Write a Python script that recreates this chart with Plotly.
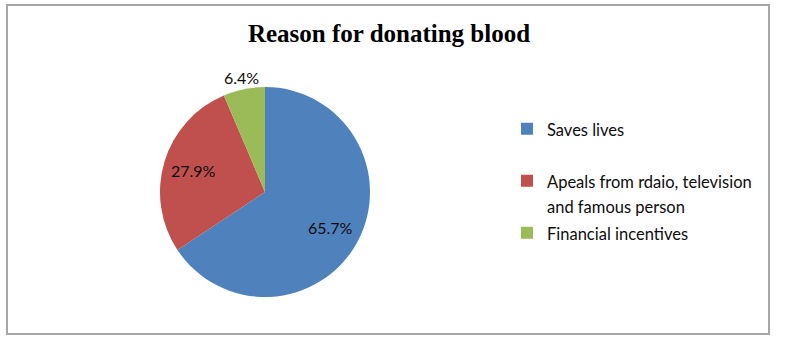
import math
import plotly.graph_objects as go

# Survey result: reasons given for donating blood (share of respondents, %)
reasons = [
    "Saves lives",
    "Apeals from rdaio, television and famous person",
    "Financial incentives",
]
shares = [65.7, 27.9, 6.4]
colors = ["#4F81BD", "#C0504D", "#9BBB59"]

W, H = 800, 346
TEXT_FONT = "Lato, sans-serif"
LABEL_SIZE = 16
LEGEND_SIZE = 16.5

# Pie placement (pixels): centre and radius
CX, CY, R = 265, 192, 105


def px_x(x):
    return x / W


def px_y(y):
    return 1 - y / H


# Legend entries: wrap the long reason, and pad the first entry with a blank
# line so the items are spread down the right-hand side
wrapped = {
    "Apeals from rdaio, television and famous person":
        "Apeals from rdaio, television<br>and famous person",
}
legend_text = []
for i, r in enumerate(reasons):
    t = wrapped.get(r, r)
    t = "<br>".join(f"<span style='font-size:{LEGEND_SIZE}px'>{ln}</span>" for ln in t.split("<br>"))
    if i == 0:
        t += "<br> "
    legend_text.append(t)

fig = go.Figure(
    go.Pie(
        labels=legend_text,
        values=shares,
        sort=False,
        direction="clockwise",
        rotation=0,
        marker=dict(colors=colors, line=dict(width=0)),
        textinfo="none",
        domain=dict(x=[px_x(CX - R), px_x(CX + R)], y=[px_y(CY + R), px_y(CY - R)]),
        hovertemplate="%{value:.1f}%<extra></extra>",
    )
)

# Percentage labels on the slice bisectors: inside for the big slices,
# just outside the rim for the small one
total = sum(shares)
start = 0.0
for v in shares:
    span = 360.0 * v / total
    mid = math.radians(start + span / 2)
    start += span
    f = 0.71 if v / total > 0.1 else 1.11
    fig.add_annotation(
        x=px_x(CX + f * R * math.sin(mid)),
        y=px_y(CY - f * R * math.cos(mid)),
        xref="paper",
        yref="paper",
        text=f"{v:.1f}%",
        showarrow=False,
        xanchor="center",
        yanchor="middle",
        font=dict(family=TEXT_FONT, size=LABEL_SIZE, color="#0d0d0d"),
    )

fig.update_layout(
    width=W,
    height=H,
    margin=dict(l=0, r=0, t=0, b=0),
    paper_bgcolor="white",
    plot_bgcolor="white",
    title=dict(
        text="<b>Reason for donating blood</b>",
        x=389 / W,
        xanchor="center",
        y=px_y(33),
        yanchor="middle",
        font=dict(family="Liberation Serif, Times New Roman, serif", size=25, color="black"),
    ),
    legend=dict(
        x=px_x(507),
        xanchor="left",
        y=px_y(110),
        yanchor="top",
        valign="top",
        font=dict(family=TEXT_FONT, size=18.85, color="#0d0d0d"),
        bgcolor="rgba(0,0,0,0)",
    ),
    shapes=[
        dict(
            type="rect",
            xref="paper",
            yref="paper",
            x0=px_x(7),
            x1=px_x(769),
            y0=px_y(334),
            y1=px_y(5),
            line=dict(color="#A6A6A6", width=2),
            fillcolor="rgba(0,0,0,0)",
        )
    ],
)

fig.write_html("out.html")
